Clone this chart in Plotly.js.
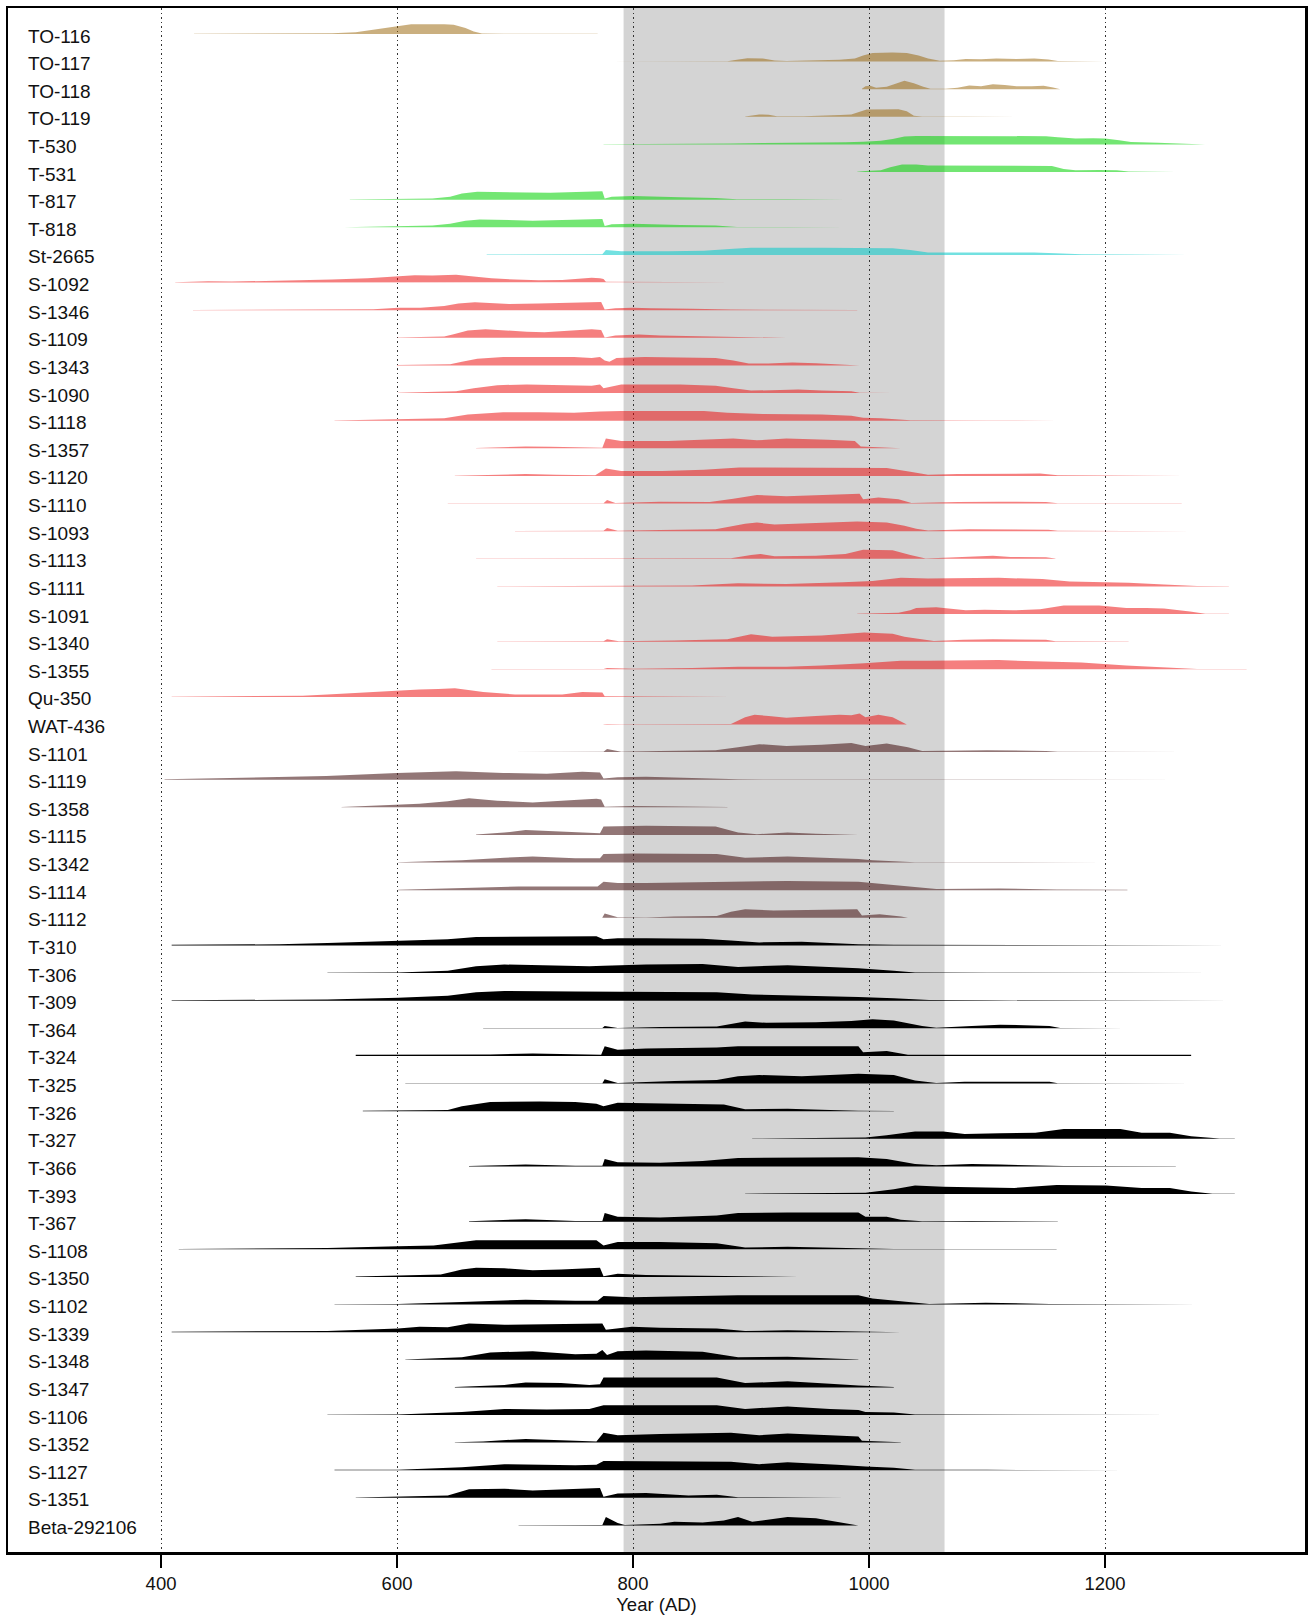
<!DOCTYPE html>
<html>
<head>
<meta charset="utf-8">
<script src="https://cdn.plot.ly/plotly-3.0.1.min.js"></script>
<style>html,body{margin:0;padding:0;background:#fff;}#chart{width:1308px;height:1618px;}</style>
</head>
<body>
<div id="chart"></div>
<script>
// ---- Data: [year AD, relative probability height] per sample ----
const TO_116 = [[428,0.2],[540,0.3],[545,0.6],[565,1.5],[583,4],[600,6.5],[612,8],[640,8],[648,7.5],[658,5],[665,2],[672,0.5],[690,0.2],[770,0.15]];
const TO_117 = [[775,0.15],[880,0.3],[888,1.5],[897,2.8],[910,2.5],[920,1],[930,0.6],[955,0.8],[975,1.5],[988,2.5],[995,5],[1003,7],[1020,7.5],[1032,7],[1042,5],[1050,2.5],[1060,0.8],[1072,1.2],[1082,2.2],[1095,2],[1108,2.6],[1125,2.2],[1140,2.5],[1152,1.8],[1160,0.5],[1200,0.15]];
const TO_118 = [[994,0.3],[997,2.5],[1001,2.8],[1006,1.2],[1015,2],[1022,4.5],[1030,7],[1038,5],[1046,2],[1052,0.5],[1065,0.3],[1075,1.2],[1085,3],[1095,2.5],[1105,4],[1115,3.5],[1125,2.5],[1138,2.5],[1148,2.8],[1156,1.5],[1162,0.3]];
const TO_119 = [[895,0.3],[900,1.2],[907,2],[915,1.8],[922,0.5],[945,0.5],[965,0.9],[976,1.5],[985,2],[992,4],[998,6],[1025,6.3],[1032,4.5],[1038,1],[1045,0.3],[1080,0.2],[1155,0.15]];
const T_530 = [[775,0.15],[850,0.2],[883,0.8],[910,1.2],[950,1.3],[980,1.8],[995,2.2],[1010,3],[1020,4.5],[1030,6.5],[1040,7],[1100,7],[1150,6.8],[1160,6],[1175,5],[1190,5.2],[1200,4.8],[1212,3.5],[1222,2],[1245,1.5],[1270,0.5],[1285,0.2]];
const T_531 = [[990,0.3],[997,1],[1010,1.5],[1018,4],[1028,6.3],[1040,6.3],[1050,5.5],[1090,5.3],[1140,5.5],[1155,5],[1165,2.5],[1175,1.5],[1195,1.8],[1210,1.5],[1220,0.5],[1260,0.15]];
const T_817 = [[560,0.15],[600,0.5],[630,1],[645,2.5],[655,5],[668,6.5],[690,6.5],[710,6],[730,5.8],[750,6.5],[770,7],[774,7],[776,1],[782,2.5],[800,3],[815,2.5],[840,2],[870,1.5],[888,0.3],[930,0.3],[980,0.15]];
const T_818 = [[555,0.15],[595,0.8],[605,1.5],[630,1.5],[645,3],[658,5.5],[670,6.5],[690,6],[715,5.5],[740,6],[760,6.5],[774,6.8],[776,1],[782,2.5],[800,3],[815,2.5],[840,2],[870,1.5],[888,0.3],[930,0.3],[980,0.15]];
const St_2665 = [[676,0.3],[740,0.4],[774,0.5],[777,4],[782,3.5],[790,3],[830,3],[860,3.5],[885,5],[900,6],[960,6],[1000,6],[1020,5.5],[1035,4],[1050,2],[1070,2],[1100,2.2],[1140,2],[1158,1.5],[1180,0.5],[1220,0.3],[1270,0.15]];
const S_1092 = [[412,0.3],[440,1],[460,0.8],[480,1.2],[520,1.5],[545,2.5],[575,3.5],[600,5],[615,6],[630,5.8],[650,6.5],[665,5],[680,3.5],[700,2.5],[720,2],[740,2.2],[755,3],[765,4],[772,3.5],[775,3],[777,0.6],[830,0.6],[883,0.3]];
const S_1346 = [[427,0.15],[540,0.3],[580,0.8],[601,2],[620,2],[640,3.5],[652,5.5],[666,6.5],[680,6],[695,5],[720,5.5],[745,6],[760,6.3],[773,6.8],[776,0.5],[785,1.5],[800,2],[815,1.5],[850,1.2],[883,0.5],[990,0.15]];
const S_1109 = [[600,0.3],[640,1],[648,3],[660,6],[675,7],[690,6],[710,5],[725,4.5],[740,5.5],[755,6],[765,7],[773,6.5],[776,0.3],[785,2],[805,2.8],[823,2],[855,1.5],[889,0.5],[930,0.15]];
const S_1343 = [[600,0.3],[645,1],[655,3],[668,5.5],[690,7],[720,7],[750,7],[765,6],[772,7],[776,4],[780,3],[786,6],[810,7],[840,6.5],[870,6],[885,4],[898,1.5],[915,1.5],[935,2.5],[955,1.8],[975,1],[992,0.3]];
const S_1090 = [[601,0.3],[650,1.5],[665,4],[685,6.5],[710,7],[740,6.5],[765,6],[772,7],[775,4],[780,5],[790,7],[840,7],[870,6],[885,4],[900,2],[925,2.5],[940,3],[960,2],[985,1.5],[992,0.3],[1020,0.15]];
const S_1118 = [[547,0.15],[601,1],[640,2],[660,5],[690,7],[720,7],[750,6.5],[772,7.5],[790,8],[860,8],[880,6.5],[910,5.5],[960,5],[985,4],[995,2.5],[1010,2],[1025,1.2],[1035,0.4],[1100,0.2],[1160,0.15]];
const S_1357 = [[667,0.2],[690,0.8],[709,1.5],[730,1.2],[760,0.5],[774,0.5],[777,8],[790,6],[830,6],[860,7],[885,8],[905,6.5],[930,8],[965,7],[988,6],[993,1.5],[1010,1],[1027,0.2]];
const S_1120 = [[649,0.2],[690,0.8],[709,1.5],[735,1],[768,0.5],[777,6],[790,4],[825,4],[860,5],[890,7],[940,7],[990,7],[1015,6.5],[1035,3.5],[1050,1],[1075,1.5],[1110,2],[1145,2],[1160,0.5],[1220,0.3],[1267,0.15]];
const S_1110 = [[643,0.15],[760,0.2],[775,0.3],[778,3],[785,0.5],[823,1.5],[865,1.2],[885,4],[905,7],[930,6],[965,7],[992,8],[995,3.5],[1008,5],[1025,3.5],[1036,0.5],[1075,1.2],[1110,1.5],[1150,1.2],[1160,0.3],[1265,0.15]];
const S_1093 = [[700,0.15],[775,0.3],[778,2.5],[787,0.3],[823,1],[870,1.5],[895,6],[905,7],[920,5.5],[955,6.5],[990,8],[1015,7],[1030,4.5],[1040,2],[1050,0.5],[1085,1.5],[1120,1.5],[1152,1.2],[1160,0.3],[1275,0.15]];
const S_1113 = [[667,0.15],[775,0.2],[883,0.5],[900,3],[908,4],[920,2],[955,2.5],[980,4],[995,7.5],[1020,7],[1035,3],[1048,0.3],[1080,1.2],[1105,2.5],[1120,1.5],[1150,1.2],[1158,0.2]];
const S_1111 = [[685,0.15],[774,0.5],[776,1],[790,0.6],[850,0.8],[889,2.5],[930,2],[978,3.5],[1003,4.5],[1027,7],[1050,6.5],[1110,7],[1147,6],[1170,4],[1200,3.5],[1220,3],[1250,1.5],[1278,0.3],[1305,0.15]];
const S_1091 = [[990,0.3],[1025,1],[1035,3],[1040,5],[1057,5.5],[1070,4],[1082,3],[1098,3.5],[1122,3],[1145,4],[1165,7],[1195,7],[1218,5],[1235,5],[1250,4.5],[1272,2],[1285,0.3],[1305,0.15]];
const S_1340 = [[685,0.15],[775,0.3],[778,2],[788,0.3],[835,1],[880,2],[900,6],[918,4],[960,5],[996,7.5],[1020,6.5],[1030,4],[1040,2.5],[1055,0.5],[1080,1.5],[1105,2],[1150,1.5],[1158,0.3],[1220,0.15]];
const S_1355 = [[680,0.15],[775,0.3],[778,1],[800,0.5],[850,1],[889,2],[930,2],[960,3],[996,5],[1027,7],[1050,7],[1110,7.5],[1140,6.5],[1180,5.5],[1218,3],[1248,1.5],[1278,0.3],[1320,0.15]];
const Qu_350 = [[409,0.2],[487,0.5],[520,1],[541,2],[571,3.5],[601,5.5],[619,6],[635,6.5],[649,7],[662,5.5],[673,4],[700,2],[740,2],[757,4],[768,3.5],[774,3.5],[776,0.6],[850,0.5],[883,0.2]];
const WAT_436 = [[775,0.3],[778,0.5],[790,0.2],[883,0.5],[895,6],[903,8],[915,7],[930,5.5],[955,7],[975,8],[985,7.5],[992,9],[997,6],[1008,8],[1020,6],[1028,2],[1032,0.3]];
const S_1101 = [[690,0.15],[775,0.3],[778,2.5],[790,0.3],[823,1],[870,1.5],[889,4],[907,6.5],[930,5],[960,6],[985,7.5],[997,5],[1015,7],[1033,4],[1045,1],[1075,1.2],[1100,1.5],[1150,1],[1160,0.3],[1270,0.15]];
const S_1119 = [[403,0.3],[440,1],[480,1.5],[540,3],[600,5.5],[650,7],[690,5.5],[727,5],[757,6.5],[772,6],[775,1],[787,2],[811,2.5],[840,1.5],[871,1],[889,0.3],[1000,0.2],[1265,0.15]];
const S_1358 = [[553,0.3],[601,2],[619,3],[643,5],[661,7.5],[685,5.5],[715,4],[750,6],[769,7],[773,6.5],[776,0.5],[800,1.2],[840,1],[880,0.3]];
const S_1115 = [[667,0.4],[691,2],[709,4],[739,3],[763,2],[772,1.5],[775,7],[811,7.5],[870,7],[882,4],[889,2],[905,0.6],[931,2],[955,1],[979,0.5],[991,0.2]];
const S_1342 = [[601,0.3],[655,2],[691,4],[715,5],[751,3.5],[772,3.5],[775,7],[800,7.5],[871,7],[895,4],[931,5],[967,4],[991,3],[1003,2],[1027,1],[1039,0.3],[1100,0.3],[1200,0.15]];
const S_1114 = [[601,0.3],[655,1.5],[703,3],[770,3],[775,7],[787,6],[811,6],[883,7],[931,7.5],[991,7],[1015,5],[1039,2.5],[1057,1],[1111,1.5],[1159,0.5],[1219,0.3]];
const S_1112 = [[774,0.3],[776,3.5],[787,0.5],[811,0.3],[835,1],[871,1.5],[883,5],[895,7],[919,6],[955,6.5],[990,7],[994,2],[1009,3],[1027,1],[1033,0.2]];
const T_310 = [[409,0.5],[463,0.5],[500,1],[541,2],[601,4],[643,5],[667,7],[727,7],[769,7.5],[775,5],[787,6],[811,6],[859,5.5],[883,4],[907,2.5],[943,3],[991,1],[1021,0.5],[1100,0.3],[1308,0.15]];
const T_306 = [[541,0.3],[601,0.5],[643,2],[667,5.5],[691,7],[727,6.5],[763,5.5],[775,6],[811,7],[859,7.5],[889,5],[931,6.5],[967,5],[991,4],[1021,2],[1039,0.5],[1100,0.3],[1300,0.15]];
const T_309 = [[409,0.3],[541,1],[601,2.5],[643,4],[667,7],[691,8],[751,7.5],[811,7.5],[871,7],[901,5],[931,4.5],[991,3],[1021,2],[1051,0.5],[1100,0.3],[1309,0.15]];
const T_364 = [[673,0.2],[745,0.2],[774,0.3],[776,2],[787,0.3],[823,1],[871,1.5],[895,5.5],[913,4.5],[955,5],[985,6],[1003,7.5],[1021,6.5],[1045,2],[1057,0.5],[1087,2],[1111,3],[1153,2],[1162,0.3],[1219,0.15]];
const T_324 = [[565,0.9],[640,0.9],[679,1.2],[715,2],[751,1.2],[773,1],[776,8],[787,5],[811,6],[871,7],[889,8],[991,8],[995,3],[1015,4],[1033,1],[1045,0.9],[1273,0.9]];
const T_325 = [[607,0.2],[700,0.3],[774,0.3],[776,3.5],[787,0.5],[835,2],[871,3],[889,6],[907,7],[943,6],[991,8],[1021,7],[1039,2.5],[1057,0.5],[1081,1.5],[1153,1.5],[1160,0.3],[1279,0.15]];
const T_326 = [[571,0.3],[643,1],[655,4],[679,7.5],[721,8],[751,7.5],[769,6],[775,4],[787,7],[823,6.5],[877,5.5],[895,1.5],[931,2],[967,1],[991,0.3],[1021,0.15]];
const T_327 = [[901,0.15],[997,1],[1015,3],[1039,6],[1063,6],[1081,4],[1111,4.5],[1141,5],[1165,8],[1213,8],[1231,5],[1255,5],[1273,2],[1297,0.3],[1310,0.15]];
const T_366 = [[661,0.3],[709,1.5],[751,0.5],[774,0.5],[776,6],[787,3.5],[823,3],[859,4.5],[889,7],[931,7],[991,7.5],[1015,6],[1039,2],[1057,1],[1087,2],[1111,1.5],[1153,1],[1165,0.3],[1260,0.15]];
const T_393 = [[895,0.3],[997,1],[1021,4],[1039,7],[1063,6],[1093,5.5],[1123,5],[1159,7.5],[1201,7],[1231,5],[1255,5],[1273,2],[1291,0.3],[1310,0.15]];
const T_367 = [[661,0.3],[709,2],[751,0.5],[774,0.5],[776,7],[787,4],[823,3.5],[871,5],[889,7],[931,7.5],[991,7.5],[997,4],[1015,4],[1027,1.5],[1045,0.3],[1087,0.5],[1160,0.15]];
const S_1108 = [[415,0.3],[541,1],[601,2.5],[631,3],[655,6],[667,7.5],[769,7.5],[775,3],[787,6],[823,6],[871,5],[895,1.5],[931,2],[991,1],[1021,0.3],[1159,0.15]];
const S_1350 = [[565,0.3],[601,1],[637,2],[655,6],[667,7.5],[691,7],[715,5.5],[739,6],[763,7],[772,7.5],[775,0.5],[787,2.5],[811,1.5],[850,1],[883,0.5],[940,0.15]];
const S_1102 = [[547,0.3],[601,0.5],[655,2],[709,4],[751,3],[770,3],[775,7],[799,6],[889,7.5],[991,7.5],[1003,5],[1027,3],[1051,0.5],[1099,1.5],[1153,0.5],[1219,0.3],[1280,0.15]];
const S_1339 = [[409,0.3],[541,1],[601,3],[619,4.5],[643,4],[661,7],[691,6],[751,7],[774,7],[777,2],[799,4.5],[823,3.5],[871,3],[895,1],[931,1.5],[991,0.5],[1027,0.2]];
const S_1348 = [[607,0.3],[655,2],[679,6],[715,7],[751,4.5],[769,5],[774,8],[778,4],[787,7],[811,7.5],[859,6.5],[889,2],[931,2.5],[967,1.5],[991,0.3]];
const S_1347 = [[649,0.3],[691,2],[709,4],[739,3.5],[763,2],[772,2.5],[775,8],[811,8],[871,8],[895,3.5],[931,5],[967,3],[991,1.5],[1021,0.3]];
const S_1106 = [[541,0.3],[601,0.5],[655,2.5],[691,5],[727,4.5],[763,5],[775,8],[811,8],[871,8],[895,5],[931,7],[967,5],[991,4],[997,2.5],[1021,2],[1039,0.5],[1100,0.3],[1260,0.15]];
const S_1352 = [[649,0.3],[673,1],[709,3],[739,2],[769,1],[775,8],[787,6],[823,7],[883,8],[907,6],[931,7.5],[967,6],[991,5],[994,1.5],[1015,1],[1027,0.3]];
const S_1127 = [[547,0.3],[601,0.5],[655,2.5],[691,5],[751,4],[769,4.5],[775,7.5],[811,7.5],[883,7],[907,5],[931,6.5],[973,4.5],[991,3],[997,3],[1021,2],[1039,0.5],[1100,0.3],[1220,0.15]];
const S_1351 = [[565,0.3],[601,1],[643,2],[661,7],[691,7.5],[715,6],[751,7],[772,8],[775,1],[787,3.5],[811,4],[847,2],[871,2.5],[889,0.5],[980,0.15]];
const Beta_292106 = [[703,0.2],[739,0.2],[774,0.3],[777,7],[787,2],[793,0.3],[823,1.5],[835,3],[859,2.5],[877,4],[889,7],[901,3],[913,4.5],[931,7],[955,6],[973,3],[985,1.5],[991,0.3]];

const sampleLabels = ["TO-116","TO-117","TO-118","TO-119","T-530","T-531","T-817","T-818","St-2665",
  "S-1092","S-1346","S-1109","S-1343","S-1090","S-1118","S-1357","S-1120","S-1110","S-1093","S-1113",
  "S-1111","S-1091","S-1340","S-1355","Qu-350","WAT-436","S-1101","S-1119","S-1358","S-1115","S-1342",
  "S-1114","S-1112","T-310","T-306","T-309","T-364","T-324","T-325","T-326","T-327","T-366","T-393",
  "T-367","S-1108","S-1350","S-1102","S-1339","S-1348","S-1347","S-1106","S-1352","S-1127","S-1351","Beta-292106"];
const sampleData = [TO_116,TO_117,TO_118,TO_119,T_530,T_531,T_817,T_818,St_2665,
  S_1092,S_1346,S_1109,S_1343,S_1090,S_1118,S_1357,S_1120,S_1110,S_1093,S_1113,
  S_1111,S_1091,S_1340,S_1355,Qu_350,WAT_436,S_1101,S_1119,S_1358,S_1115,S_1342,
  S_1114,S_1112,T_310,T_306,T_309,T_364,T_324,T_325,T_326,T_327,T_366,T_393,
  T_367,S_1108,S_1350,S_1102,S_1339,S_1348,S_1347,S_1106,S_1352,S_1127,S_1351,Beta_292106];
const xTicks = [400,600,800,1000,1200];
const bandStart = 792, bandEnd = 1064;

// ---- styling ----
function colorFor(i){
  if (i <= 3) return 'rgba(150,95,0,0.5)';
  if (i <= 7) return 'rgba(0,210,0,0.55)';
  if (i === 8) return 'rgba(0,200,200,0.55)';
  if (i <= 25) return 'rgba(235,0,0,0.5)';
  if (i <= 32) return 'rgba(80,35,35,0.62)';
  return 'rgba(0,0,0,1)';
}
const ROW_PX = 27.62;           // pixel distance between rows
const K = 1.22 / ROW_PX;        // height unit -> row units

const traces = sampleData.map((pts, i) => {
  const xs = pts.map(p => p[0]);
  const ys = pts.map(p => i - p[1] * K);
  const xr = xs.slice().reverse();
  const yb = xs.map(() => i);
  return {
    type: 'scatter', mode: 'lines',
    x: xs.concat(xr), y: ys.concat(yb),
    fill: 'toself', fillcolor: colorFor(i),
    line: {width: 0, color: colorFor(i)},
    hoverinfo: 'skip', showlegend: false
  };
});

const annotations = sampleLabels.map((t, i) => ({
  text: t, xref: 'paper', x: 0, xanchor: 'left', xshift: 18,
  yref: 'y', y: i, yanchor: 'middle', yshift: -2,
  showarrow: false, font: {family: 'Liberation Sans, Arial, sans-serif', size: 19, color: '#111'}
}));

const layout = {
  width: 1308, height: 1618,
  margin: {l: 8, r: 3, t: 8, b: 66},
  paper_bgcolor: '#fff', plot_bgcolor: '#fff',
  font: {family: 'Liberation Sans, Arial, sans-serif', size: 18.5, color: '#111'},
  xaxis: {
    range: [270.3, 1369.5], tickvals: xTicks, ticktext: xTicks.map(String),
    ticks: 'outside', ticklen: 13, tickwidth: 1.2, tickcolor: '#000',
    showgrid: true, gridcolor: '#333', griddash: '1.5px,3px', gridwidth: 1,
    zeroline: false, showline: true, mirror: true, linecolor: '#000', linewidth: 2.5,
    tickfont: {size: 18.5, color: '#111'},
    title: {text: 'Year (AD)', font: {size: 18.5, color: '#111'}, standoff: 4}
  },
  yaxis: {
    range: [(1552 - 34) / ROW_PX, -(34 - 8) / ROW_PX],
    showticklabels: false, ticks: '', showgrid: false, zeroline: false,
    showline: true, mirror: true, linecolor: '#000', linewidth: 2.5
  },
  shapes: [{
    type: 'rect', xref: 'x', yref: 'paper', x0: bandStart, x1: bandEnd, y0: 0, y1: 1,
    fillcolor: '#d4d4d4', line: {width: 0}, layer: 'below'
  }],
  annotations: annotations
};

Plotly.newPlot('chart', traces, layout, {displayModeBar: false, staticPlot: true});
</script>
</body>
</html>
